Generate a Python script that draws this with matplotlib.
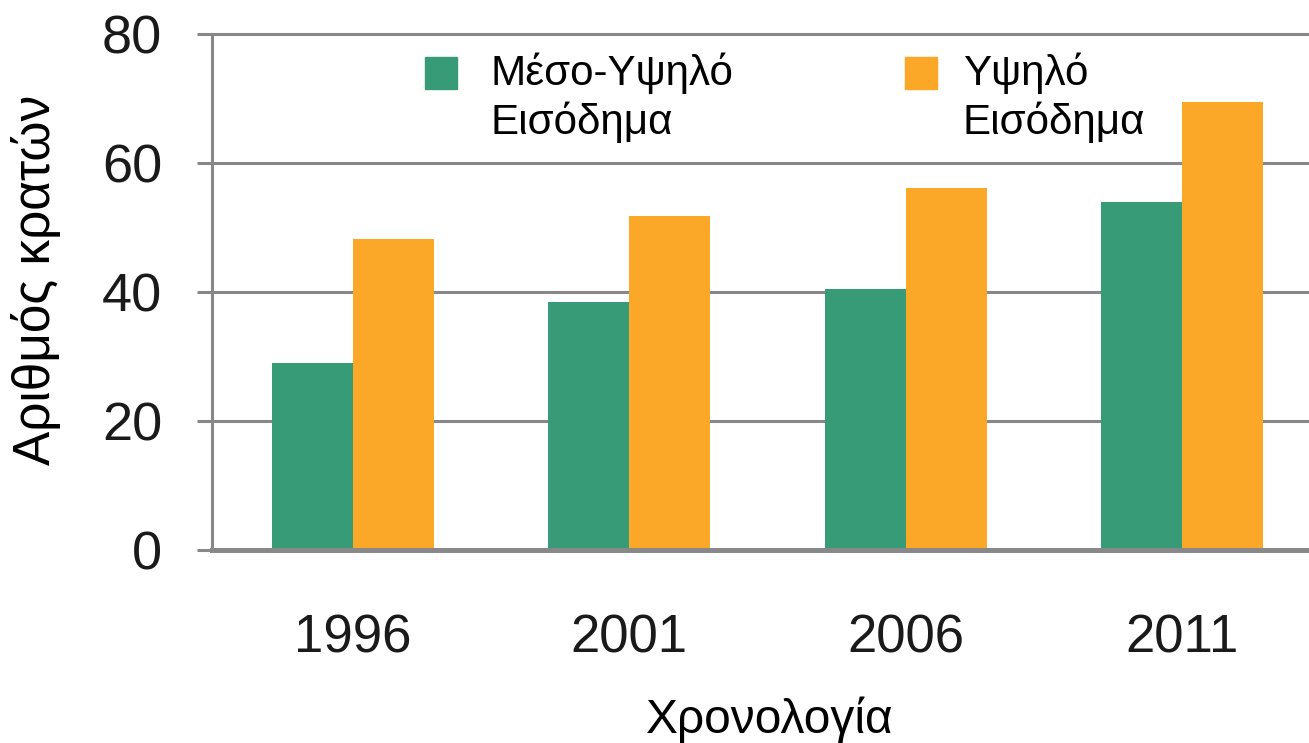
import matplotlib
matplotlib.use("Agg")
import matplotlib.pyplot as plt
import numpy as np
from matplotlib.patches import Rectangle

plt.rcParams["font.family"] = ["Liberation Sans", "DejaVu Sans"]

years = ["1996", "2001", "2006", "2011"]
mid_high = [29.0, 38.4, 40.5, 54.0]
high = [48.2, 51.8, 56.1, 69.5]
series_labels = ["Μέσο-Υψηλό\nΕισόδημα", "Υψηλό\nΕισόδημα"]
colors = ["#389b78", "#fba828"]
yticks = [0, 20, 40, 60, 80]

DPI = 100
fig = plt.figure(figsize=(13.09, 7.43), dpi=DPI)
ax = fig.add_axes([212 / 1309, 193 / 743, 1 - 212 / 1309, (709 - 193) / 743])

x = np.arange(len(years))
w = 0.293
ax.bar(x - w / 2, mid_high, width=w, color=colors[0], zorder=3)
ax.bar(x + w / 2, high, width=w, color=colors[1], zorder=3)

grid_c = "#888888"
ax.set_ylim(0, 80)
ax.set_xlim(-0.51, 3.46)
ax.set_yticks(yticks)
ax.set_yticklabels([str(t) for t in yticks])
ax.set_xticks(x)
ax.set_xticklabels(years)
for t in yticks[1:]:
    ax.axhline(t, color=grid_c, lw=2.2, zorder=1, clip_on=False)

for s in ["top", "right"]:
    ax.spines[s].set_visible(False)
ax.spines["left"].set_color(grid_c)
ax.spines["left"].set_linewidth(2.2)
ax.spines["bottom"].set_color(grid_c)
ax.spines["bottom"].set_linewidth(3.6)
ax.spines["bottom"].set_zorder(4)

ax.tick_params(axis="y", length=10.8, width=2.2, color=grid_c, pad=25,
               labelsize=39, labelcolor="#1a1a1a")
ax.tick_params(axis="x", length=0, pad=46, labelsize=38, labelcolor="#1a1a1a")

fig.text(36 / 1309, 1 - 280 / 743, "Αριθμός κρατών", rotation=90,
         ha="center", va="center", fontsize=37)
fig.text(770 / 1309, 1 - 733 / 743, "Χρονολογία", ha="center", va="baseline",
         fontsize=34.5)

# legend, drawn by hand to keep square beside the first line
legend_pos = [(425, 490), (905, 963)]
for (sx, tx), lab, c in zip(legend_pos, series_labels, colors):
    fig.patches.append(Rectangle((sx / 1309, 1 - 89 / 743), 32 / 1309, 32 / 743,
                                 transform=fig.transFigure, color=c, zorder=5))
    fig.text(tx / 1309, 1 - 52 / 743, lab, ha="left", va="top", fontsize=30.3,
             linespacing=1.25)

fig.savefig("out.png", dpi=DPI)
